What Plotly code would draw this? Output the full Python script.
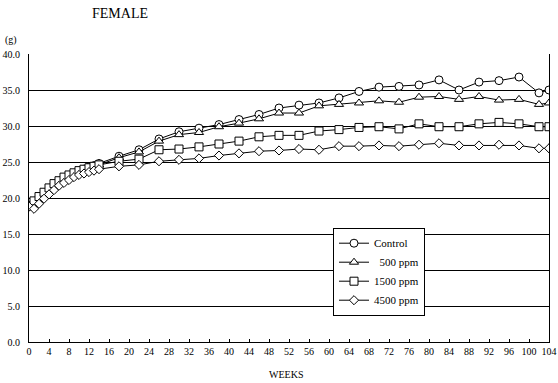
import plotly.graph_objects as go

weeks = list(range(0, 15)) + list(range(18, 103, 4)) + [104]

control = [19.0, 19.3, 19.9, 20.5, 21.0, 21.6, 22.1, 22.6, 23.0, 23.3, 23.7, 24.0, 24.3, 24.5, 24.8,
           25.8, 26.7, 28.2, 29.2, 29.7, 30.2, 30.9, 31.6, 32.5, 32.9, 33.2, 33.9, 34.8, 35.4,
           35.5, 35.7, 36.4, 35.0, 36.1, 36.3, 36.8, 34.6, 35.0]
ppm500 = [18.9, 19.2, 19.8, 20.4, 20.9, 21.5, 22.0, 22.5, 22.9, 23.2, 23.6, 23.9, 24.2, 24.4, 24.6,
          25.6, 26.4, 27.9, 28.8, 29.1, 29.9, 30.4, 31.0, 31.8, 31.8, 32.8, 33.0, 33.2, 33.5,
          33.3, 34.0, 34.1, 33.7, 34.1, 33.6, 33.7, 33.0, 33.2]
ppm1500 = [18.9, 19.6, 20.2, 20.8, 21.4, 22.0, 22.4, 22.9, 23.2, 23.5, 23.8, 24.0, 24.2, 24.4, 24.6,
           25.1, 25.4, 26.7, 26.8, 27.1, 27.5, 27.9, 28.5, 28.7, 28.7, 29.3, 29.5, 29.8, 29.9,
           29.6, 30.3, 29.9, 29.9, 30.3, 30.5, 30.3, 29.9, 29.9]
ppm4500 = [18.8, 18.5, 19.2, 19.9, 20.5, 21.1, 21.7, 22.1, 22.5, 22.9, 23.2, 23.4, 23.6, 23.8, 24.0,
           24.4, 24.6, 25.1, 25.3, 25.5, 25.9, 26.2, 26.5, 26.6, 26.8, 26.7, 27.2, 27.2, 27.3,
           27.2, 27.4, 27.6, 27.3, 27.3, 27.4, 27.3, 26.9, 26.9]

series_names = ["Control", "\u00a0\u00a0500 ppm", "1500 ppm", "4500 ppm"]
series_values = [control, ppm500, ppm1500, ppm4500]
symbols = ["circle", "triangle-up", "square", "diamond"]
sizes = [8, 8, 8, 7]

x_ticks = list(range(0, 105, 4))
y_ticks = [0, 5, 10, 15, 20, 25, 30, 35, 40]

FONT = "Liberation Serif"
L, R, T, B = 29, 9, 54, 40.5
W, H = 558, 383
pw, ph = W - L - R, H - T - B

fig = go.Figure()
for name, vals, sym, sz in zip(series_names, series_values, symbols, sizes):
    fig.add_trace(go.Scatter(
        x=weeks, y=vals, name=name, mode="lines+markers",
        line=dict(color="black", width=1),
        marker=dict(symbol=sym, size=sz, color="white", line=dict(color="black", width=1)),
    ))


def ann(text, px, py, size):
    return dict(text=text, x=(px - L) / pw, y=(H - B - py) / ph,
                xref="paper", yref="paper", showarrow=False,
                xanchor="center", yanchor="middle",
                font=dict(family=FONT, size=size, color="black"))


fig.update_layout(
    width=W, height=H,
    margin=dict(l=L, r=R, t=T, b=B, autoexpand=False),
    paper_bgcolor="white", plot_bgcolor="white",
    font=dict(family=FONT, size=10, color="black"),
    showlegend=True,
    legend=dict(x=(333 - L) / pw, y=(H - B - 228) / ph, xanchor="left", yanchor="top",
                bgcolor="white", bordercolor="black", borderwidth=1,
                font=dict(family=FONT, size=11), itemwidth=30,
                tracegroupgap=0),
    annotations=[
        ann("FEMALE", 120, 13, 14),
        ann("(g)", 11, 40, 10),
        ann("WEEKS", 286, 375, 10),
    ],
)

fig.update_xaxes(range=[0, 104], tickvals=x_ticks, ticktext=[str(t) for t in x_ticks],
                 ticks="inside", ticklen=3, tickcolor="black", automargin=False,
                 showline=True, linecolor="black", linewidth=1,
                 showgrid=False, zeroline=False, tickfont=dict(family=FONT, size=10))
fig.update_yaxes(range=[0, 40], tickvals=y_ticks, ticktext=[f"{t:.1f}" for t in y_ticks],
                 showline=True, linecolor="black", linewidth=1, mirror=True, automargin=False,
                 showgrid=True, gridcolor="black", gridwidth=1, zeroline=False,
                 ticks="", ticklabelstandoff=6, tickfont=dict(family=FONT, size=10))

fig.write_html("out.html", config={"displayModeBar": False},
               post_script="document.body.style.margin='0';document.body.style.padding='0';")
